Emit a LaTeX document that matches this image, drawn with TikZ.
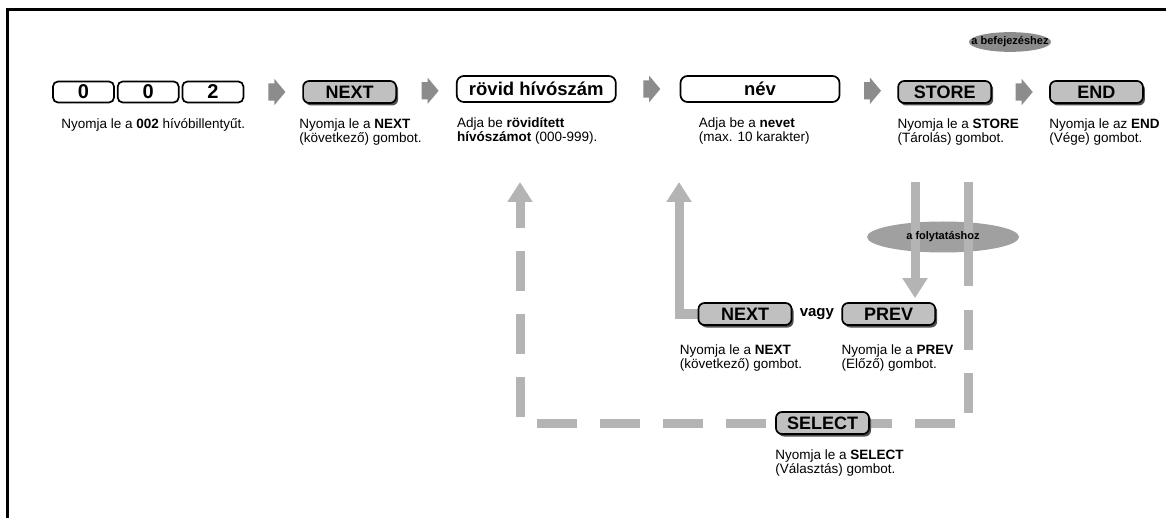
\documentclass[tikz,border=0pt]{standalone}
\usepackage{fontspec}
\setmainfont{Liberation Sans}
\usepackage{xcolor}
\usetikzlibrary{positioning, shapes.geometric, shapes.arrows, shadows, arrows.meta, backgrounds}

\definecolor{btngray}{RGB}{192,192,192}
\definecolor{shadowgray}{RGB}{80,80,80}
\definecolor{arrowgray}{RGB}{140,140,140}
\definecolor{linegray}{RGB}{180,180,180}
\definecolor{hintdark}{RGB}{140,140,140}
\definecolor{hintlight}{RGB}{160,160,160}

\begin{document}
\begin{tikzpicture}[x=1pt, y=-1pt, node distance=2pt,
    keybox/.style={draw, line width=1.7pt, rounded corners=5pt, fill=white, minimum width=61pt, minimum height=21pt, inner sep=0pt, font=\bfseries\fontsize{20}{20}\selectfont},
    entrybox/.style={draw, line width=1.7pt, rounded corners=7pt, fill=white, minimum width=159pt, minimum height=26pt, inner sep=0pt, font=\bfseries\fontsize{18.5}{19}\selectfont},
    button/.style={draw, line width=1.7pt, rounded corners=6pt, fill=btngray, minimum width=93pt, minimum height=22pt, inner sep=0pt, font=\bfseries\fontsize{18}{18}\selectfont, drop shadow={shadow xshift=2pt, shadow yshift=-2.5pt, fill=shadowgray, opacity=1}},
    note/.style={align=left, inner sep=0pt, font=\fontsize{13.5}{14}\selectfont},
    flowarrow/.style={single arrow, fill=arrowgray, inner xsep=0pt, inner ysep=8.5pt, minimum height=17pt, single arrow head extend=4.5pt, single arrow tip angle=100},
    hint/.style={ellipse, font=\bfseries\fontsize{11}{11}\selectfont},
    loopline/.style={draw=linegray, line width=9pt},
    looptip/.style={-{Triangle[width=24pt, length=20pt]}}]

    \useasboundingbox (0,0) rectangle (1166,518);

    % Frame
    \draw[line width=3pt] (7,518) -- (7,10) -- (1166,10);

    % Main row
    \node[keybox] (key0a) at (83.5,92) {0};
    \node[keybox, right=2pt of key0a] (key0b) {0};
    \node[keybox, right=2pt of key0b] (key2) {2};
    \node[button, right=58pt of key2] (next1) {NEXT};
    \node[entrybox, right=59pt of next1, yshift=3pt] (rovid) {rövid hívószám};
    \node[entrybox, right=63pt of rovid] (nev) {név};
    \node[button, right=57pt of nev, yshift=-3pt] (store) {STORE};
    \node[button, right=57pt of store] (endbtn) {END};
    \node[hint, fill=hintdark, inner xsep=-9.5pt, inner ysep=1.8pt] (finishhint) at (1010,42) {a befejezéshez};

    % Texts under the main row
    \node[note, below right=15pt and 9pt of key0a.south west] (key-txt) {Nyomja le a \textbf{002} hívóbillentyűt.};
    \node[note, below right=15pt and -3pt of next1.south west] (next1-txt) {Nyomja le a \textbf{NEXT}\\(következő) gombot.};
    \node[note, below right=15pt and 1pt of rovid.south west] (rovid-txt) {Adja be \textbf{rövidített}\\\textbf{hívószámot} (000-999).};
    \node[note, below right=15pt and 19pt of nev.south west] (nev-txt) {Adja be a \textbf{nevet}\\(max. 10 karakter)};
    \node[note, below right=15pt and 0pt of store.south west] (store-txt) {Nyomja le a \textbf{STORE}\\(Tárolás) gombot.};
    \node[note, below right=15pt and 0pt of endbtn.south west] (end-txt) {Nyomja le az \textbf{END}\\(Vége) gombot.};

    % Links of the main row
    \path (key2) -- node[flowarrow] {} (next1);
    \path (next1) -- node[flowarrow] {} (rovid);
    \path (rovid) -- node[flowarrow] {} (nev);
    \path (nev) -- node[flowarrow] {} (store);
    \path (store) -- node[flowarrow] {} (endbtn);

    % Lower part
    \node[button] (next2) at (745,314) {NEXT};
    \node[button, right=49pt of next2] (prev) {PREV};
    \path (next2) -- node[font=\bfseries\fontsize{15}{15}\selectfont] (vagy) {vagy} (prev);
    \node[button] (select) at (822.5,423) {SELECT};

    \node[note, below right=19pt and -18pt of next2.south west] (next2-txt) {Nyomja le a \textbf{NEXT}\\(következő) gombot.};
    \node[note, below right=19pt and 0pt of prev.south west] (prev-txt) {Nyomja le a \textbf{PREV}\\(Előző) gombot.};
    \node[note, below right=15pt and 0pt of select.south west] (select-txt) {Nyomja le a \textbf{SELECT}\\(Választás) gombot.};

    \coordinate (store-out) at (968,182);
    \coordinate (store-gap) at (968,286);
    \coordinate (store-back) at (968,310);
    \coordinate (prev-in) at (915,182);
    \coordinate (nev-in) at (679,182);
    \coordinate (rovid-in) at (520,182);

    % Loops
    \begin{scope}[on background layer]
        \node[hint, fill=hintlight, inner sep=0pt, minimum width=152pt, minimum height=31pt] (conthint) at (943,237) {};
        \draw[loopline, looptip] (prev-in) -- ([yshift=4pt]prev-in |- prev.north);
        \draw[loopline, looptip] (next2.west) -| (nev-in);
        \draw[loopline] (store-out) -- (store-gap);
        \draw[loopline, looptip, dash pattern=on 40pt off 23pt] (store-back) |- (select.center) -| (rovid-in);
    \end{scope}
    \node[hint, inner sep=0pt] (conthint-txt) at (conthint) {a folytatáshoz};
\end{tikzpicture}
\end{document}
